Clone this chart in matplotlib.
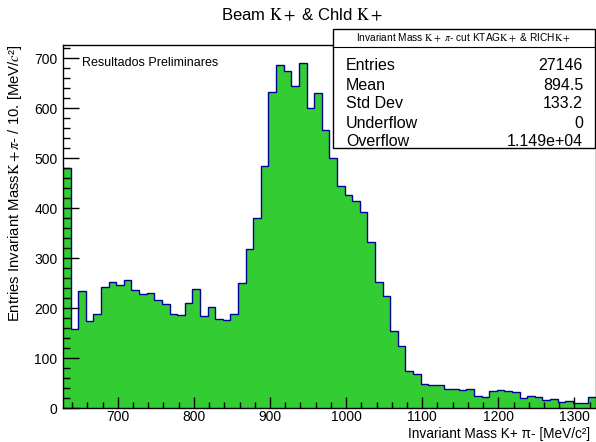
import numpy as np
import matplotlib
matplotlib.use("Agg")
import matplotlib.pyplot as plt
from matplotlib.patches import Rectangle
from matplotlib.ticker import MultipleLocator

plt.rcParams['font.family'] = ['Liberation Sans', 'DejaVu Sans']
plt.rcParams['mathtext.fontset'] = 'stix'

# histogram: 70 bins of 10 MeV starting at 628 MeV
x_start = 628
bin_width = 10
counts = [480, 159, 234, 175, 188, 243, 253, 246, 256, 236,
          228, 231, 217, 208, 188, 187, 211, 238, 184, 203,
          179, 177, 189, 251, 318, 381, 485, 632, 687, 675,
          645, 691, 601, 631, 557, 501, 445, 427, 415, 392,
          332, 253, 225, 154, 124, 75, 69, 49, 47, 46,
          38, 39, 36, 39, 24, 23, 35, 36, 34, 33,
          20, 25, 23, 16, 19, 13, 15, 11, 11, 23]

stat_names = ['Entries', 'Mean', 'Std Dev', 'Underflow', 'Overflow']
stat_values = ['27146', '894.5', '133.2', '0', '1.149e+04']

edges = x_start + bin_width * np.arange(len(counts) + 1)

fig = plt.figure(figsize=(5.96, 4.42), dpi=100)
ax = fig.add_axes([63 / 596, 1 - 408.3 / 442, 532.7 / 596, 363.3 / 442])

ax.stairs(counts, edges, fill=True, color='#33cc33', linewidth=0)
ax.stairs(counts, edges, color='#000099', linewidth=1.0, baseline=None)

ax.set_xlim(edges[0], edges[-1])
ax.set_ylim(0, 727)

ax.xaxis.set_major_locator(MultipleLocator(100))
ax.xaxis.set_minor_locator(MultipleLocator(20))
ax.yaxis.set_major_locator(MultipleLocator(100))
ax.yaxis.set_minor_locator(MultipleLocator(20))
ax.tick_params(axis='both', which='both', direction='in', labelsize=10, width=1)
ax.tick_params(axis='y', which='major', length=11.5, pad=4)
ax.tick_params(axis='y', which='minor', length=5)
ax.tick_params(axis='x', which='major', length=8, pad=1.5)
ax.tick_params(axis='x', which='minor', length=4.3)
for s in ax.spines.values():
    s.set_linewidth(1)

ax.text(0.035, 0.95, 'Resultados Preliminares', transform=ax.transAxes,
        fontsize=9, va='center', ha='left')

fig.text(302 / 596, 1 - 15 / 442, r'Beam $\mathrm{K+}$ & Chld $\mathrm{K+}$',
         ha='center', va='center', fontsize=12)
fig.text(590 / 596, 1 - 441 / 442,
         'Invariant Mass K+ π- [MeV/c²]',
         ha='right', va='bottom', fontsize=9.8)
fig.text(15 / 596, 1 - 45 / 442,
         r'Entries Invariant Mass$\mathrm{K+}\pi$- / 10. [MeV/$c$²]',
         ha='center', va='top', rotation=90, fontsize=10.7)

# stats box
bx0, bx1 = 333 / 596, 595 / 596
by0, by1 = 1 - 148 / 442, 1 - 29 / 442
fig.patches.append(Rectangle((bx0, by0), bx1 - bx0, by1 - by0,
                             transform=fig.transFigure, facecolor='white',
                             edgecolor='black', linewidth=1, zorder=5))
fig.add_artist(plt.Line2D([bx0, bx1], [1 - 47 / 442] * 2, transform=fig.transFigure,
                          color='black', linewidth=0.8, zorder=6))
fig.text((bx0 + bx1) / 2, 1 - 38 / 442,
         r'Invariant Mass $\mathrm{K+}$ $\pi$- cut KTAG$\mathrm{K+}$ & RICH$\mathrm{K+}$',
         ha='center', va='center', fontsize=7.3, zorder=7)
rows_y = [65, 85, 104, 124, 142]
for name, val, ry in zip(stat_names, stat_values, rows_y):
    fig.text(346 / 596, 1 - ry / 442, name, ha='left', va='center', fontsize=11.5, zorder=7)
    fig.text(583 / 596, 1 - ry / 442, val, ha='right', va='center', fontsize=11.5, zorder=7)

fig.savefig('out.png', dpi=100)
